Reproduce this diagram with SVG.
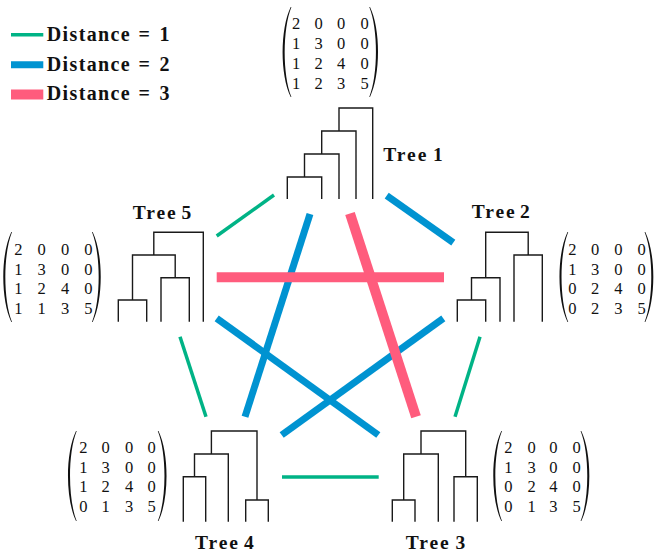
<svg xmlns="http://www.w3.org/2000/svg" xmlns:xlink="http://www.w3.org/1999/xlink" width="656" height="553" viewBox="0 0 656 553">
<style>
.tree{fill:none;stroke:#1a1a1a;stroke-width:1.4}
.num{font-family:"Liberation Serif","Times New Roman",serif;font-size:16.5px;fill:#111;text-anchor:middle}
.lbl{font-family:"Liberation Serif","Times New Roman",serif;font-weight:bold;font-size:19.5px;fill:#111}
.leg{font-family:"Liberation Serif","Times New Roman",serif;font-weight:bold;font-size:20px;fill:#111}
.d1{stroke:#00B386;stroke-width:3.5;fill:none}
.d2{stroke:#0093D1;stroke-width:7;fill:none}
.d3{stroke:#FF5C7D;stroke-width:10;fill:none}
.par{fill:#111}
</style>
<defs>
<path id="lp" class="par" d="M8.5 0 C-2.2 22 -2.2 68 8.5 90 L9.2 90 C0.3 68 0.3 22 9.2 0 Z"/>
</defs>

<g id="legend">
<line class="d1" x1="11" y1="34.7" x2="43.3" y2="34.7"/>
<line class="d2" x1="11" y1="64.8" x2="43.3" y2="64.8"/>
<line class="d3" x1="11" y1="94.5" x2="43.3" y2="94.5"/>
<text class="leg" y="41"><tspan x="46.7" textLength="83" lengthAdjust="spacing">Distance</tspan><tspan x="138.5">=</tspan><tspan x="159.5">1</tspan></text>
<text class="leg" y="70.5"><tspan x="46.7" textLength="83" lengthAdjust="spacing">Distance</tspan><tspan x="138.5">=</tspan><tspan x="159.5">2</tspan></text>
<text class="leg" y="100"><tspan x="46.7" textLength="83" lengthAdjust="spacing">Distance</tspan><tspan x="138.5">=</tspan><tspan x="159.5">3</tspan></text>
</g>

<g id="connectors">
<line class="d1" x1="216.7" y1="236" x2="274" y2="195"/>
<line class="d1" x1="180" y1="336.7" x2="206" y2="416.7"/>
<line class="d1" x1="480" y1="336.7" x2="455" y2="416.7"/>
<line class="d1" x1="282" y1="477" x2="378.7" y2="477"/>
<line class="d2" x1="386.7" y1="195.7" x2="453.3" y2="242.7"/>
<line class="d2" x1="310" y1="214" x2="245" y2="416.7"/>
<line class="d2" x1="216.7" y1="318.3" x2="378.3" y2="435"/>
<line class="d2" x1="443.3" y1="318.3" x2="281.7" y2="435"/>
<line class="d3" x1="216.7" y1="277.3" x2="444" y2="277.3"/>
<line class="d3" x1="350" y1="213.5" x2="416" y2="416.7"/>
</g>

<g id="tree1">
<path class="tree" d="M287.3 199 V177 H321.7 V199 M304.5 177 V154 H339 V199 M321.7 154 V131 H356 V199 M339 131 V108 H372.7 V199"/>
<text class="lbl" y="160.7"><tspan x="383.3" textLength="43" lengthAdjust="spacing">Tree</tspan><tspan x="433">1</tspan></text>
<use xlink:href="#lp" href="#lp" transform="translate(282.2,7)"/>
<use xlink:href="#lp" href="#lp" transform="translate(378.5,7) scale(-1,1)"/>
<text class="num" y="28.8"><tspan x="296">2</tspan><tspan x="318.5">0</tspan><tspan x="341">0</tspan><tspan x="364.5">0</tspan></text>
<text class="num" y="48.8"><tspan x="296">1</tspan><tspan x="318.5">3</tspan><tspan x="341">0</tspan><tspan x="364.5">0</tspan></text>
<text class="num" y="68.8"><tspan x="296">1</tspan><tspan x="318.5">2</tspan><tspan x="341">4</tspan><tspan x="364.5">0</tspan></text>
<text class="num" y="88.8"><tspan x="296">1</tspan><tspan x="318.5">2</tspan><tspan x="341">3</tspan><tspan x="364.5">5</tspan></text>
</g>

<g id="tree2">
<path class="tree" d="M457.3 321.7 V300 H485.7 V321.7 M471.5 300 V277.7 H500 V321.7 M514 321.7 V255 H542.3 V321.7 M485.7 277.7 V232.3 H528.2 V255"/>
<text class="lbl" y="218.3"><tspan x="471.7" textLength="43" lengthAdjust="spacing">Tree</tspan><tspan x="520">2</tspan></text>
<use xlink:href="#lp" href="#lp" transform="translate(559,232)"/>
<use xlink:href="#lp" href="#lp" transform="translate(653.8,232) scale(-1,1)"/>
<text class="num" y="254.8"><tspan x="572.3">2</tspan><tspan x="595">0</tspan><tspan x="618.3">0</tspan><tspan x="641.7">0</tspan></text>
<text class="num" y="274.5"><tspan x="572.3">1</tspan><tspan x="595">3</tspan><tspan x="618.3">0</tspan><tspan x="641.7">0</tspan></text>
<text class="num" y="294.2"><tspan x="572.3">0</tspan><tspan x="595">2</tspan><tspan x="618.3">4</tspan><tspan x="641.7">0</tspan></text>
<text class="num" y="313.8"><tspan x="572.3">0</tspan><tspan x="595">2</tspan><tspan x="618.3">3</tspan><tspan x="641.7">5</tspan></text>
</g>

<g id="tree3">
<path class="tree" d="M392.3 521.7 V500 H415 V521.7 M403.7 500 V454 H438.3 V521.7 M454 521.7 V476.7 H477.3 V521.7 M421 454 V431 H465.7 V476.7"/>
<text class="lbl" y="549.3"><tspan x="405.7" textLength="43" lengthAdjust="spacing">Tree</tspan><tspan x="455.5">3</tspan></text>
<use xlink:href="#lp" href="#lp" transform="translate(492.8,431)"/>
<use xlink:href="#lp" href="#lp" transform="translate(589.8,431) scale(-1,1)"/>
<text class="num" y="452.8"><tspan x="508.3">2</tspan><tspan x="531.7">0</tspan><tspan x="553.3">0</tspan><tspan x="576.7">0</tspan></text>
<text class="num" y="472.5"><tspan x="508.3">1</tspan><tspan x="531.7">3</tspan><tspan x="553.3">0</tspan><tspan x="576.7">0</tspan></text>
<text class="num" y="492.2"><tspan x="508.3">0</tspan><tspan x="531.7">2</tspan><tspan x="553.3">4</tspan><tspan x="576.7">0</tspan></text>
<text class="num" y="511.9"><tspan x="508.3">0</tspan><tspan x="531.7">1</tspan><tspan x="553.3">3</tspan><tspan x="576.7">5</tspan></text>
</g>

<g id="tree4">
<path class="tree" d="M183.3 521.7 V476.7 H205.7 V521.7 M194.5 476.7 V454 H228.3 V521.7 M245.7 521.7 V500 H268.3 V521.7 M211.4 454 V431 H257 V500"/>
<text class="lbl" y="549.3"><tspan x="195" textLength="43" lengthAdjust="spacing">Tree</tspan><tspan x="244">4</tspan></text>
<use xlink:href="#lp" href="#lp" transform="translate(67.5,431)"/>
<use xlink:href="#lp" href="#lp" transform="translate(167,431) scale(-1,1)"/>
<text class="num" y="452.8"><tspan x="83.3">2</tspan><tspan x="105.7">0</tspan><tspan x="129">0</tspan><tspan x="151.7">0</tspan></text>
<text class="num" y="472.5"><tspan x="83.3">1</tspan><tspan x="105.7">3</tspan><tspan x="129">0</tspan><tspan x="151.7">0</tspan></text>
<text class="num" y="492.2"><tspan x="83.3">1</tspan><tspan x="105.7">2</tspan><tspan x="129">4</tspan><tspan x="151.7">0</tspan></text>
<text class="num" y="511.9"><tspan x="83.3">0</tspan><tspan x="105.7">1</tspan><tspan x="129">3</tspan><tspan x="151.7">5</tspan></text>
</g>

<g id="tree5">
<path class="tree" d="M118.3 321.7 V300 H146.7 V321.7 M161 321.7 V277.7 H189.3 V321.7 M132.5 300 V255 H175.2 V277.7 M153.8 255 V232.3 H203.3 V321.7"/>
<text class="lbl" y="219"><tspan x="132.7" textLength="43" lengthAdjust="spacing">Tree</tspan><tspan x="181.5">5</tspan></text>
<use xlink:href="#lp" href="#lp" transform="translate(2.8,232)"/>
<use xlink:href="#lp" href="#lp" transform="translate(101.2,232) scale(-1,1)"/>
<text class="num" y="254.8"><tspan x="18.3">2</tspan><tspan x="41.7">0</tspan><tspan x="65">0</tspan><tspan x="88.3">0</tspan></text>
<text class="num" y="274.5"><tspan x="18.3">1</tspan><tspan x="41.7">3</tspan><tspan x="65">0</tspan><tspan x="88.3">0</tspan></text>
<text class="num" y="294.2"><tspan x="18.3">1</tspan><tspan x="41.7">2</tspan><tspan x="65">4</tspan><tspan x="88.3">0</tspan></text>
<text class="num" y="313.8"><tspan x="18.3">1</tspan><tspan x="41.7">1</tspan><tspan x="65">3</tspan><tspan x="88.3">5</tspan></text>
</g>
</svg>
